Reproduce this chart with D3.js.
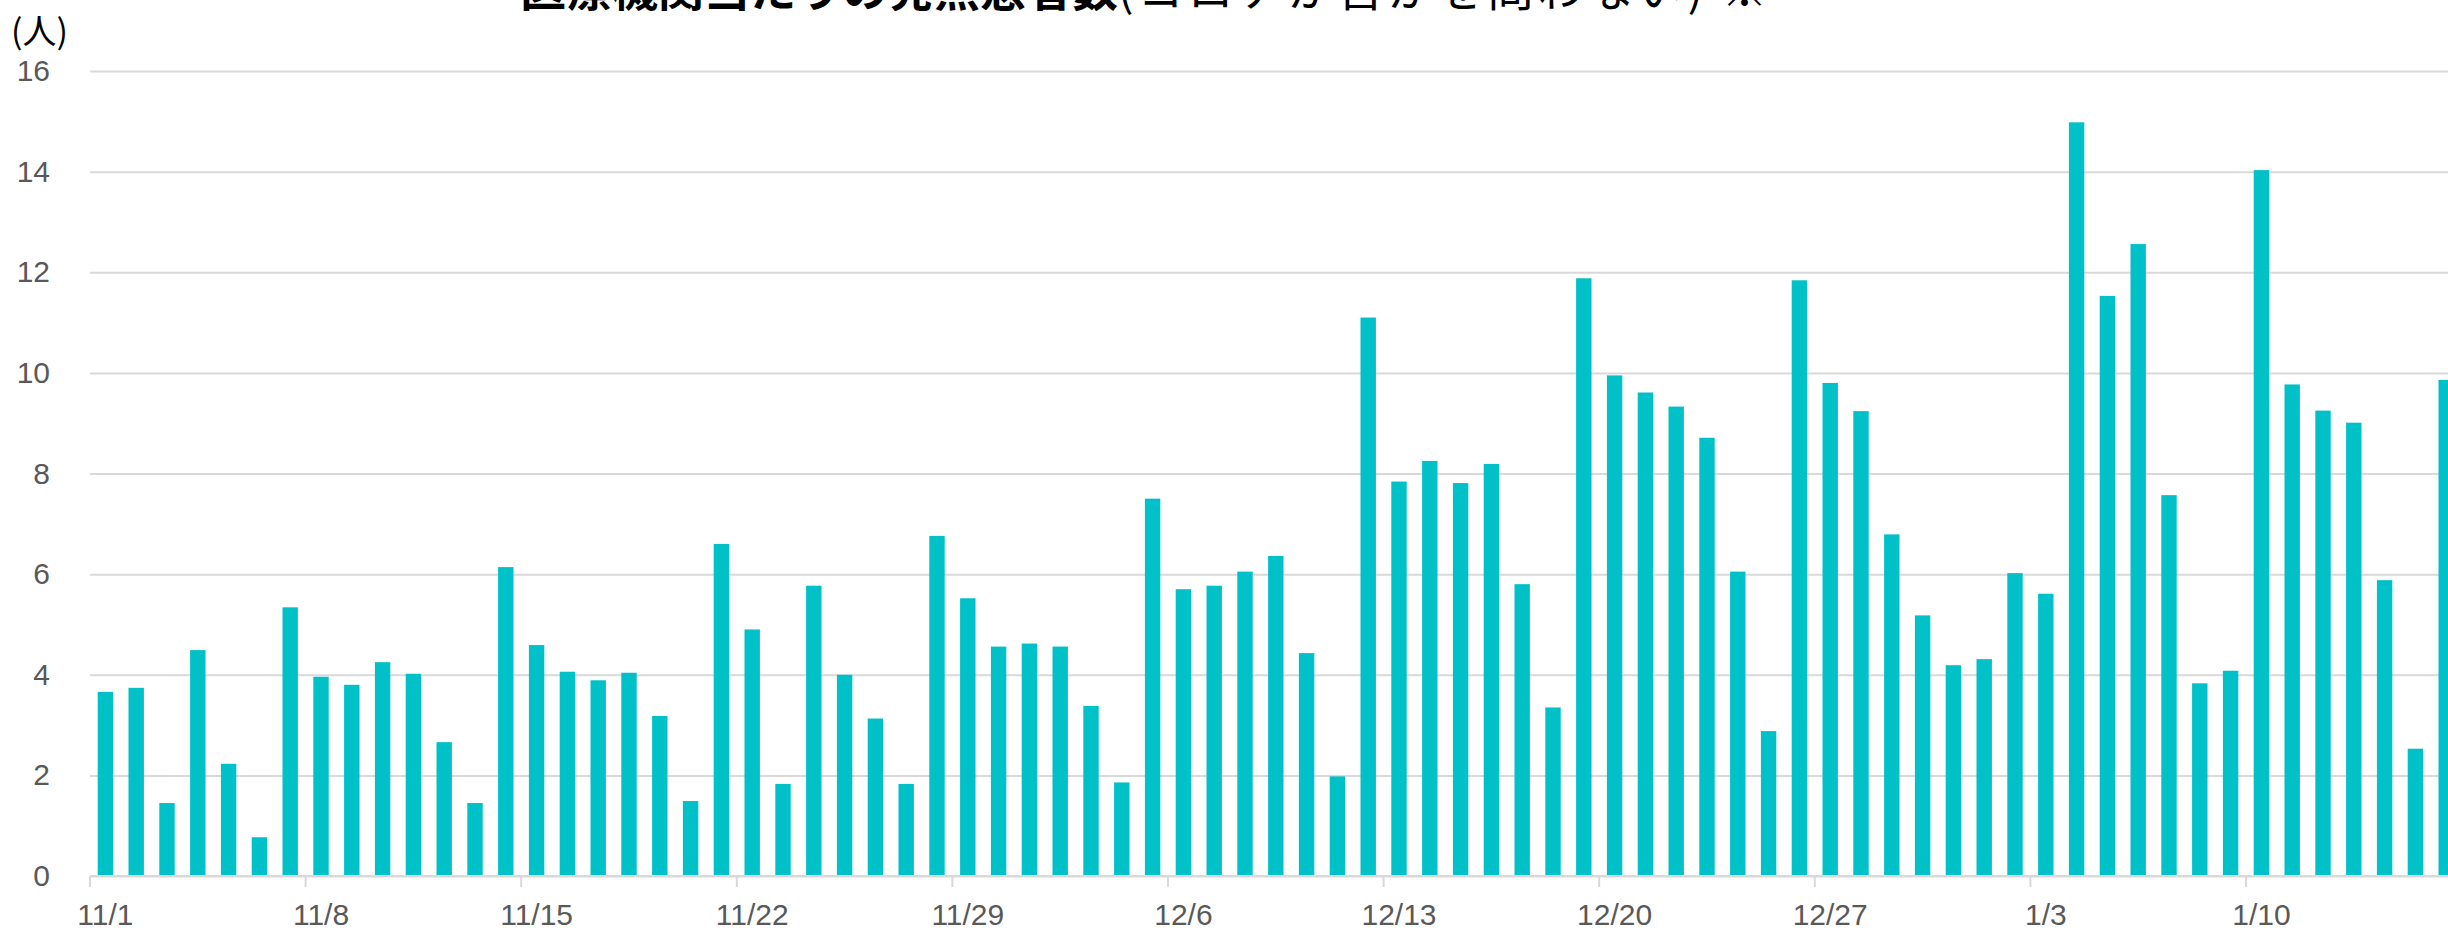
<!DOCTYPE html>
<html>

<head>
    <meta charset="utf-8">
    <style>
        body {
            margin: 0;
            background: #fff;
        }

        svg {
            display: block;
            font-family: Roboto, 'Open Sans', sans-serif;
        }

        .y .domain,
        .x .domain {
            display: none;
        }

        .y .tick line {
            stroke: #d9d9d9;
            stroke-width: 2;
        }

        .y .tick text,
        .x .tick text {
            font-size: 30px;
            font-weight: 300;
            fill: #595959;
        }
    </style>
</head>

<body>
    <svg width="2448" height="931"></svg>

    <script src="https://cdn.jsdelivr.net/npm/d3@7"></script>
    <script>
        // days 11/1 .. 1/16
        let days = [
            "11/1", "11/2", "11/3", "11/4", "11/5", "11/6", "11/7", "11/8", "11/9", "11/10",
            "11/11", "11/12", "11/13", "11/14", "11/15", "11/16", "11/17", "11/18", "11/19", "11/20",
            "11/21", "11/22", "11/23", "11/24", "11/25", "11/26", "11/27", "11/28", "11/29", "11/30",
            "12/1", "12/2", "12/3", "12/4", "12/5", "12/6", "12/7", "12/8", "12/9", "12/10",
            "12/11", "12/12", "12/13", "12/14", "12/15", "12/16", "12/17", "12/18", "12/19", "12/20",
            "12/21", "12/22", "12/23", "12/24", "12/25", "12/26", "12/27", "12/28", "12/29", "12/30",
            "12/31", "1/1", "1/2", "1/3", "1/4", "1/5", "1/6", "1/7", "1/8", "1/9",
            "1/10", "1/11", "1/12", "1/13", "1/14", "1/15", "1/16"
        ]

        // patients per medical institution
        let patients = [
            3.66, 3.74, 1.45, 4.49, 2.23, 0.77, 5.34, 3.96, 3.80, 4.25,
            4.02, 2.66, 1.45, 6.14, 4.59, 4.06, 3.89, 4.04, 3.18, 1.49,
            6.60, 4.90, 1.83, 5.77, 4.00, 3.13, 1.83, 6.76, 5.52, 4.56,
            4.62, 4.56, 3.38, 1.86, 7.50, 5.70, 5.77, 6.05, 6.36, 4.43,
            1.98, 11.10, 7.84, 8.25, 7.81, 8.19, 5.80, 3.35, 11.88, 9.95,
            9.61, 9.33, 8.71, 6.05, 2.88, 11.84, 9.80, 9.24, 6.79, 5.18,
            4.19, 4.31, 6.02, 5.61, 14.98, 11.53, 12.56, 7.57, 3.83, 4.08,
            14.03, 9.77, 9.25, 9.01, 5.88, 2.53, 9.86
        ]

        let weekLabels = ["11/1", "11/8", "11/15", "11/22", "11/29", "12/6", "12/13", "12/20", "12/27", "1/3", "1/10"]
        let yTicks = [0, 2, 4, 6, 8, 10, 12, 14, 16]

        let titleMain = "医療機関当たりの発熱患者数"
        let titleSub = "(コロナか否かを問わない) ※"
        let unitLabel = "(人)"

        let svg = d3.select("svg")

        let margin = { top: 71, bottom: 55, left: 90 }
        let step = 30.8
        let plotBottom = 931 - margin.bottom

        // the plot runs past the right edge of the window
        let plotRight = margin.left + step * days.length

        let x = d3.scaleBand()
            .domain(days)
            .range([margin.left, plotRight])
            .paddingInner(0.5)
            .paddingOuter(0.25)

        let y = d3.scaleLinear()
            .domain([0, 16])
            .range([plotBottom, margin.top])

        // gridlines + labels
        svg.append("g")
            .attr("class", "y axis")
            .attr("transform", `translate(${margin.left},0)`)
            .call(d3.axisLeft(y)
                .tickValues(yTicks)
                .tickSize(-(plotRight - margin.left))
                .tickPadding(40))

        // bars
        svg.append("g")
            .selectAll(".bar")
            .data(days)
            .join("rect")
            .attr("class", "bar")
            .attr("x", d => x(d))
            .attr("width", x.bandwidth())
            .attr("y", (d, i) => y(patients[i]))
            .attr("height", (d, i) => y(0) - y(patients[i]))
            .style("fill", "#00c0c8")

        // x axis line
        svg.append("line")
            .attr("x1", margin.left)
            .attr("x2", plotRight)
            .attr("y1", y(0))
            .attr("y2", y(0))
            .style("stroke", "#d9d9d9")
            .style("stroke-width", 2)

        // tick marks sit between categories, at the start of each week
        svg.append("g")
            .selectAll(".wk")
            .data(weekLabels)
            .join("line")
            .attr("class", "wk")
            .attr("x1", d => x(d) - x.step() * 0.25)
            .attr("x2", d => x(d) - x.step() * 0.25)
            .attr("y1", y(0))
            .attr("y2", y(0) + 11)
            .style("stroke", "#d9d9d9")
            .style("stroke-width", 2)

        svg.append("g")
            .attr("class", "x axis")
            .attr("transform", `translate(0,${y(0)})`)
            .call(d3.axisBottom(x)
                .tickValues(weekLabels)
                .tickSize(0)
                .tickPadding(28))

        // unit label
        svg.append("text")
            .attr("x", 11)
            .attr("y", 44)
            .style("font-family", "'Noto Sans CJK JP', sans-serif")
            .style("font-size", "34px")
            .style("fill", "#000")
            .text(unitLabel)

        // title, cut by the top edge as in the source
        let title = svg.append("text")
            .attr("x", 520)
            .attr("y", 6)
            .style("font-family", "'Noto Sans CJK JP', sans-serif")
            .style("font-size", "46px")
            .style("fill", "#000")

        title.append("tspan")
            .style("font-weight", "bold")
            .text(titleMain)

        title.append("tspan")
            .style("font-weight", "normal")
            .style("letter-spacing", "4px")
            .text(titleSub)
    </script>
</body>

</html>
